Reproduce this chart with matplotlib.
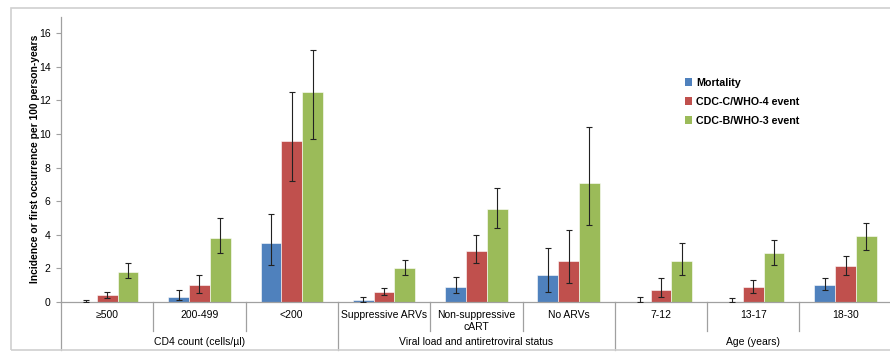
import matplotlib
matplotlib.use("Agg")
import matplotlib.pyplot as plt
import matplotlib.transforms as mtransforms
from matplotlib.patches import Rectangle, Patch
import numpy as np

plt.rcParams['font.family'] = ['Liberation Sans', 'DejaVu Sans']

categories = ["\u2265500", "200-499", "<200", "Suppressive ARVs", "Non-suppressive\ncART",
              "No ARVs", "7-12", "13-17", "18-30"]
groups = ["CD4 count (cells/\u00b5l)", "Viral load and antiretroviral status", "Age (years)"]
group_sizes = [3, 3, 3]

series = ["Mortality", "CDC-C/WHO-4 event", "CDC-B/WHO-3 event"]
mortality = [0.0, 0.3, 3.5, 0.1, 0.9, 1.6, 0.0, 0.0, 1.0]
mortality_lo = [0.0, 0.1, 2.2, 0.0, 0.5, 0.6, 0.0, 0.0, 0.7]
mortality_hi = [0.1, 0.7, 5.2, 0.3, 1.5, 3.2, 0.3, 0.2, 1.4]
cdc_c = [0.4, 1.0, 9.6, 0.6, 3.0, 2.4, 0.7, 0.9, 2.1]
cdc_c_lo = [0.2, 0.5, 7.2, 0.4, 2.3, 1.1, 0.3, 0.5, 1.6]
cdc_c_hi = [0.6, 1.6, 12.5, 0.8, 4.0, 4.3, 1.4, 1.3, 2.7]
cdc_b = [1.8, 3.8, 12.5, 2.0, 5.5, 7.1, 2.4, 2.9, 3.9]
cdc_b_lo = [1.4, 2.9, 9.7, 1.6, 4.4, 4.6, 1.6, 2.2, 3.1]
cdc_b_hi = [2.3, 5.0, 15.0, 2.5, 6.8, 10.4, 3.5, 3.7, 4.7]

colors = ["#4F81BD", "#C0504D", "#9BBB59"]
yticks = [0, 2, 4, 6, 8, 10, 12, 14, 16]

W, H = 890, 352
fig = plt.figure(figsize=(W / 100, H / 100), dpi=100)

def fx(px):
    return px / W

def fy(py):
    return (H - py) / H

# outer frame
fig.patches.append(Rectangle((fx(11), fy(350)), fx(900) - fx(11), fy(7.5) - fy(350),
                             transform=fig.transFigure, fill=False,
                             edgecolor="#D0D0D0", linewidth=1.2, zorder=0))

ax_left, ax_right = 61, 891.7
ax_bottom, ax_top = 301.7, 16.6
ax = fig.add_axes([fx(ax_left), fy(ax_bottom), fx(ax_right) - fx(ax_left), fy(ax_top) - fy(ax_bottom)])

n = len(categories)
x = np.arange(n) + 0.5
bw = 0.225
all_vals = [mortality, cdc_c, cdc_b]
all_lo = [mortality_lo, cdc_c_lo, cdc_b_lo]
all_hi = [mortality_hi, cdc_c_hi, cdc_b_hi]
for k in range(3):
    v = np.array(all_vals[k])
    lo = np.array(all_lo[k])
    hi = np.array(all_hi[k])
    xs = x + (k - 1) * bw
    ax.bar(xs, v, width=bw, color=colors[k], edgecolor="white", linewidth=0.4, zorder=2)
    ax.errorbar(xs, v, yerr=[v - lo, hi - v], fmt="none", ecolor="#222222",
                elinewidth=0.8, capsize=2.2, capthick=0.8, zorder=3)

ax.set_xlim(0, n)
ax.set_ylim(0, 17)
ax.set_yticks(yticks)
ax.set_yticklabels([str(t) for t in yticks], fontsize=7.5)
ax.set_xticks([])
for s in ["top", "right"]:
    ax.spines[s].set_visible(False)
for s in ["left", "bottom"]:
    ax.spines[s].set_color("#A0A0A0")
    ax.spines[s].set_linewidth(0.9)
ax.tick_params(axis="y", direction="out", length=3.5, color="#A0A0A0", width=0.8, pad=4)
ax.set_ylabel("Incidence or first occurrence per 100 person-years", fontsize=7.4,
              fontweight="bold", labelpad=-1)

# hierarchical x axis
bt = mtransforms.blended_transform_factory(ax.transData, fig.transFigure)
for i, c in enumerate(categories):
    ax.text(x[i], fy(310.5), c, transform=bt, ha="center", va="top", fontsize=7.5,
            linespacing=1.2)
start = 0
for g, size in zip(groups, group_sizes):
    ax.text(start + size / 2, fy(342), g, transform=bt, ha="center", va="center", fontsize=7.5)
    start += size
# dividers
boundaries = np.cumsum(group_sizes)
for b in range(0, n):
    if b == 0 or b in boundaries:
        y_end = fy(350)
    else:
        y_end = fy(331)
    ax.plot([b, b], [fy(ax_bottom), y_end], transform=bt, color="#A0A0A0",
            linewidth=0.9, clip_on=False)

# legend
handles = [Patch(facecolor=colors[k], edgecolor="none", label=series[k]) for k in range(3)]
leg = fig.legend(handles=handles, loc="upper left", bbox_to_anchor=(fx(685), fy(77.5)),
                 frameon=False, fontsize=7.7, handlelength=0.7, handleheight=0.7,
                 handletextpad=0.35, labelspacing=0.85, borderaxespad=0, borderpad=0)
for t in leg.get_texts():
    t.set_fontweight("bold")

fig.savefig("out.png", dpi=100)
